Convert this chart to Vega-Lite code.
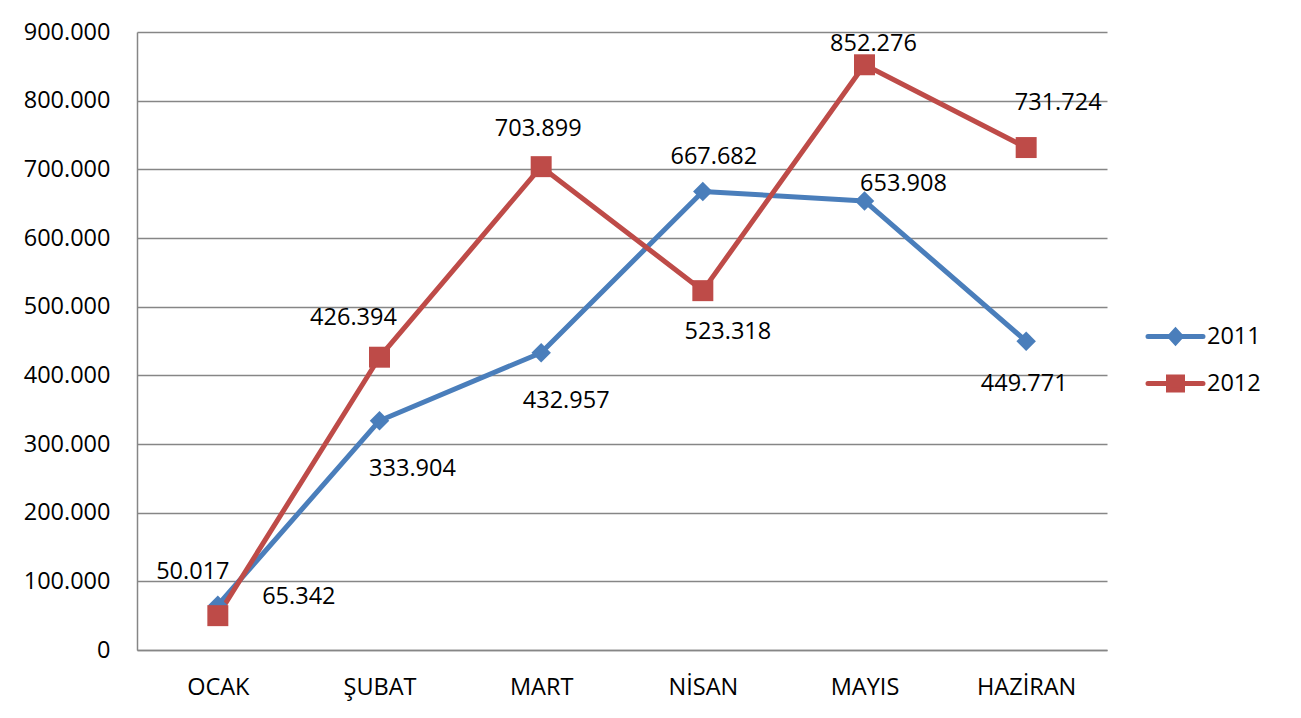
{
  "$schema": "https://vega.github.io/schema/vega-lite/v6.json",
  "width": 970,
  "height": 618,
  "autosize": {"type": "none"},
  "padding": {"left": 137, "top": 32, "right": 194, "bottom": 68},
  "background": "white",
  "config": {
    "locale": {"number": {"decimal": ",", "thousands": ".", "grouping": [3], "currency": ["", ""]}},
    "font": "Open Sans",
    "view": {"stroke": null},
    "axis": {"labelFont": "Open Sans", "labelFontSize": 23.5, "labelColor": "#000000", "ticks": false, "domainColor": "#868686", "domainWidth": 1.5, "gridColor": "#868686", "gridWidth": 1.5, "title": null},
    "legend": {"labelFont": "Open Sans", "labelFontSize": 23.5, "labelColor": "#000000"}
  },
  "data": {
    "values": [
      {"ay": "OCAK", "yil": "2011", "deger": 65342},
      {"ay": "ŞUBAT", "yil": "2011", "deger": 333904},
      {"ay": "MART", "yil": "2011", "deger": 432957},
      {"ay": "NİSAN", "yil": "2011", "deger": 667682},
      {"ay": "MAYIS", "yil": "2011", "deger": 653908},
      {"ay": "HAZİRAN", "yil": "2011", "deger": 449771},
      {"ay": "OCAK", "yil": "2012", "deger": 50017},
      {"ay": "ŞUBAT", "yil": "2012", "deger": 426394},
      {"ay": "MART", "yil": "2012", "deger": 703899},
      {"ay": "NİSAN", "yil": "2012", "deger": 523318},
      {"ay": "MAYIS", "yil": "2012", "deger": 852276},
      {"ay": "HAZİRAN", "yil": "2012", "deger": 731724}
    ]
  },
  "encoding": {
    "x": {
      "field": "ay", "type": "nominal",
      "sort": ["OCAK", "ŞUBAT", "MART", "NİSAN", "MAYIS", "HAZİRAN"],
      "scale": {"type": "point", "padding": 0.5},
      "axis": {"labelAngle": 0, "labelPadding": 25, "grid": false}
    },
    "y": {
      "field": "deger", "type": "quantitative",
      "scale": {"domain": [0, 900000], "nice": false, "zero": true},
      "axis": {"values": [0, 100000, 200000, 300000, 400000, 500000, 600000, 700000, 800000, 900000], "format": ",d", "labelPadding": 27, "grid": true}
    }
  },
  "layer": [
    {
      "mark": {"type": "line", "strokeWidth": 5, "strokeJoin": "round", "strokeCap": "round"},
      "encoding": {
        "color": {
          "field": "yil", "type": "nominal",
          "scale": {"domain": ["2011", "2012"], "range": ["#4A7EBB", "#BE4B48"]},
          "legend": {
            "title": null,
            "orient": "none",
            "legendX": 1026,
            "legendY": 292,
            "padding": 0,
            "symbolSize": 400,
            "symbolStrokeWidth": 5,
            "labelOffset": 19,
            "rowPadding": 14,
            "encoding": {
              "symbols": {
                "shape": {"condition": {"test": "datum.value === '2011'", "value": "M-2.75,0L2.75,0M-0.55,0L0,-0.6L0.55,0L0,0.6Z"}, "value": "M-2.75,0L2.75,0M-0.7,-0.65L0.7,-0.65L0.7,0.65L-0.7,0.65Z"},
                "fill": {"condition": {"test": "datum.value === '2011'", "value": "#4A7EBB"}, "value": "#BE4B48"},
                "stroke": {"condition": {"test": "datum.value === '2011'", "value": "#4A7EBB"}, "value": "#BE4B48"},
                "strokeWidth": {"value": 5},
                "strokeCap": {"value": "round"},
                "opacity": {"value": 1}
              }
            }
          }
        }
      }
    },
    {
      "transform": [{"filter": "datum.yil === '2011'"}],
      "mark": {"type": "point", "filled": true, "opacity": 1, "shape": "diamond", "size": 380, "color": "#4A7EBB"}
    },
    {
      "transform": [{"filter": "datum.yil === '2012'"}],
      "mark": {"type": "point", "filled": true, "opacity": 1, "shape": "square", "size": 440, "color": "#BE4B48"}
    },
    {"transform": [{"filter": "datum.yil === '2011' && datum.ay === 'OCAK'"}], "mark": {"type": "text", "dx": 81, "dy": -8, "fontSize": 23.5, "color": "#000000", "align": "center", "baseline": "middle"}, "encoding": {"text": {"field": "deger", "type": "quantitative", "format": ","}}},
    {"transform": [{"filter": "datum.yil === '2011' && datum.ay === 'ŞUBAT'"}], "mark": {"type": "text", "dx": 33, "dy": 48, "fontSize": 23.5, "color": "#000000", "align": "center", "baseline": "middle"}, "encoding": {"text": {"field": "deger", "type": "quantitative", "format": ","}}},
    {"transform": [{"filter": "datum.yil === '2011' && datum.ay === 'MART'"}], "mark": {"type": "text", "dx": 25, "dy": 48, "fontSize": 23.5, "color": "#000000", "align": "center", "baseline": "middle"}, "encoding": {"text": {"field": "deger", "type": "quantitative", "format": ","}}},
    {"transform": [{"filter": "datum.yil === '2011' && datum.ay === 'NİSAN'"}], "mark": {"type": "text", "dx": 11, "dy": -35, "fontSize": 23.5, "color": "#000000", "align": "center", "baseline": "middle"}, "encoding": {"text": {"field": "deger", "type": "quantitative", "format": ","}}},
    {"transform": [{"filter": "datum.yil === '2011' && datum.ay === 'MAYIS'"}], "mark": {"type": "text", "dx": 39, "dy": -17, "fontSize": 23.5, "color": "#000000", "align": "center", "baseline": "middle"}, "encoding": {"text": {"field": "deger", "type": "quantitative", "format": ","}}},
    {"transform": [{"filter": "datum.yil === '2011' && datum.ay === 'HAZİRAN'"}], "mark": {"type": "text", "dx": -2, "dy": 43, "fontSize": 23.5, "color": "#000000", "align": "center", "baseline": "middle"}, "encoding": {"text": {"field": "deger", "type": "quantitative", "format": ","}}},
    {"transform": [{"filter": "datum.yil === '2012' && datum.ay === 'OCAK'"}], "mark": {"type": "text", "dx": -25, "dy": -44, "fontSize": 23.5, "color": "#000000", "align": "center", "baseline": "middle"}, "encoding": {"text": {"field": "deger", "type": "quantitative", "format": ","}}},
    {"transform": [{"filter": "datum.yil === '2012' && datum.ay === 'ŞUBAT'"}], "mark": {"type": "text", "dx": -26, "dy": -39, "fontSize": 23.5, "color": "#000000", "align": "center", "baseline": "middle"}, "encoding": {"text": {"field": "deger", "type": "quantitative", "format": ","}}},
    {"transform": [{"filter": "datum.yil === '2012' && datum.ay === 'MART'"}], "mark": {"type": "text", "dx": -3, "dy": -38, "fontSize": 23.5, "color": "#000000", "align": "center", "baseline": "middle"}, "encoding": {"text": {"field": "deger", "type": "quantitative", "format": ","}}},
    {"transform": [{"filter": "datum.yil === '2012' && datum.ay === 'NİSAN'"}], "mark": {"type": "text", "dx": 25, "dy": 41, "fontSize": 23.5, "color": "#000000", "align": "center", "baseline": "middle"}, "encoding": {"text": {"field": "deger", "type": "quantitative", "format": ","}}},
    {"transform": [{"filter": "datum.yil === '2012' && datum.ay === 'MAYIS'"}], "mark": {"type": "text", "dx": 9, "dy": -21, "fontSize": 23.5, "color": "#000000", "align": "center", "baseline": "middle"}, "encoding": {"text": {"field": "deger", "type": "quantitative", "format": ","}}},
    {"transform": [{"filter": "datum.yil === '2012' && datum.ay === 'HAZİRAN'"}], "mark": {"type": "text", "dx": 32, "dy": -45, "fontSize": 23.5, "color": "#000000", "align": "center", "baseline": "middle"}, "encoding": {"text": {"field": "deger", "type": "quantitative", "format": ","}}}
  ]
}
